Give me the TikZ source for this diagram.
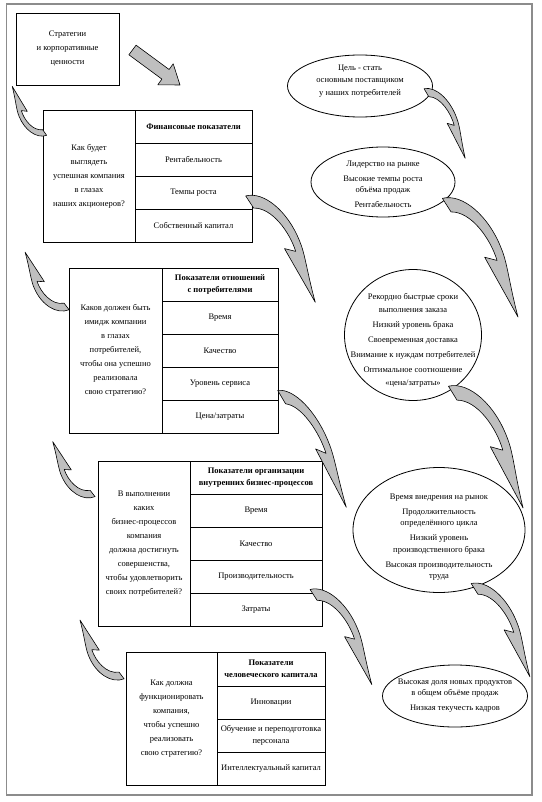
\documentclass[tikz,border=0pt]{standalone}
\usepackage{fontspec}
\setmainfont{Liberation Serif}
\usetikzlibrary{shapes.geometric}
\tikzset{
 cell/.style={draw, line width=0.8pt, inner sep=1pt, align=center, font=\fontsize{8.5}{14}\selectfont},
 hcell/.style={cell, font=\fontsize{8.5}{12}\selectfont\bfseries},
 oval/.style={draw, ellipse, line width=0.8pt, inner sep=0pt},
 otext/.style={align=center, inner sep=0pt},
 arrowfill/.style={fill=black!25, draw=black, line width=0.6pt, line join=round},
 framebox/.style={draw=black!45, line width=1.5pt},
}
% curved arrow: tail x, tail y, angle, length, bulge factor
\newcommand\crvarrow[5]{%
 \begin{scope}[shift={(#1,#2)}, rotate=#3, scale=#4, yscale=#5]
 \path[arrowfill] (-0.05,0) .. controls (0,-0.15) and (0.25,-0.22) .. (0.5,-0.17)
   .. controls (0.62,-0.15) and (0.75,-0.08) .. (1,0) -- (0.49,-0.03) -- (0.56,-0.095)
   .. controls (0.4,-0.14) and (0.15,-0.13) .. (0.07,0) -- cycle;
 \end{scope}}
\begin{document}
\begin{tikzpicture}[x=1pt,y=-1pt]
\useasboundingbox (0,0) rectangle (541,802);
\draw[framebox] (6.5,4) rectangle (532,795);

% box 1
\node[cell, minimum width=103pt, minimum height=72pt] (b1) at (67.5,49) {Стратегии\\и корпоративные\\ценности};

% straight block arrow
\path[arrowfill] (128.9,54.8) -- (136.1,45.2) -- (169.1,69.5) -- (173.2,63.8) -- (180,85) -- (157.8,84.8) -- (161.9,79.1) -- cycle;

% table 1
\node[cell, minimum width=92pt, minimum height=132pt] (t1q) at (89,176) {Как будет\\выглядеть\\успешная компания\\в глазах\\наших акционеров?};
\node[hcell, minimum width=117pt, minimum height=33pt] (t1h) at (193.5,126.5) {Финансовые показатели};
\node[cell, minimum width=117pt, minimum height=33pt] (t1a) at (193.5,159.5) {Рентабельность};
\node[cell, minimum width=117pt, minimum height=33pt] (t1b) at (193.5,192.5) {Темпы роста};
\node[cell, minimum width=117pt, minimum height=33pt] (t1c) at (193.5,225.5) {Собственный капитал};

% table 2
\node[cell, minimum width=93pt, minimum height=165pt] (t2q) at (115.5,350.5) {Каков должен быть\\имидж компании\\в глазах\\потребителей,\\чтобы она успешно\\реализовала\\свою стратегию?};
\node[hcell, minimum width=116pt, minimum height=33pt] (t2h) at (220,284.5) {Показатели отношений\\с потребителями};
\node[cell, minimum width=116pt, minimum height=33pt] (t2a) at (220,317.5) {Время};
\node[cell, minimum width=116pt, minimum height=33pt] (t2b) at (220,350.5) {Качество};
\node[cell, minimum width=116pt, minimum height=33pt] (t2c) at (220,383.5) {Уровень сервиса};
\node[cell, minimum width=116pt, minimum height=33pt] (t2d) at (220,416.5) {Цена/затраты};

% table 3
\node[cell, minimum width=92pt, minimum height=165pt] (t3q) at (144,543.5) {В выполнении\\каких\\бизнес-процессов\\компания\\должна достигнуть\\совершенства,\\чтобы удовлетворить\\своих потребителей?};
\node[hcell, minimum width=132pt, minimum height=33pt] (t3h) at (256,477.5) {Показатели организации\\внутренних бизнес-процессов};
\node[cell, minimum width=132pt, minimum height=33pt] (t3a) at (256,510.5) {Время};
\node[cell, minimum width=132pt, minimum height=33pt] (t3b) at (256,543.5) {Качество};
\node[cell, minimum width=132pt, minimum height=33pt] (t3c) at (256,576.5) {Производительность};
\node[cell, minimum width=132pt, minimum height=33pt] (t3d) at (256,609.5) {Затраты};

% table 4
\node[cell, minimum width=91pt, minimum height=133pt] (t4q) at (171.5,718.5) {Как должна\\функционировать\\компания,\\чтобы успешно\\реализовать\\свою стратегию?};
\node[hcell, minimum width=108pt, minimum height=34pt] (t4h) at (271,669) {Показатели\\человеческого капитала};
\node[cell, minimum width=108pt, minimum height=33pt, font=\fontsize{8.5}{12}\selectfont] (t4a) at (271,702.5) {Инновации};
\node[cell, minimum width=108pt, minimum height=33pt, font=\fontsize{8.5}{12}\selectfont] (t4b) at (271,735.5) {Обучение и переподготовка\\персонала};
\node[cell, minimum width=108pt, minimum height=33pt, font=\fontsize{8.5}{12}\selectfont] (t4c) at (271,768.5) {Интеллектуальный капитал};

% ellipses
\node[oval, minimum width=145pt, minimum height=62pt] (e1) at (360,86) {};
\node[otext, font=\fontsize{8.5}{12.5}\selectfont] (e1t) at (360,81) {Цель - стать\\основным поставщиком\\у наших потребителей};
\node[oval, minimum width=144pt, minimum height=70pt] (e2) at (383,182) {};
\node[otext, font=\fontsize{8.5}{11}\selectfont] (e2t) at (383,184) {Лидерство на рынке\\[4pt]Высокие темпы роста\\объёма продаж\\[4pt]Рентабельность};
\node[oval, minimum width=137pt, minimum height=131pt] (e3) at (413,335) {};
\node[otext, font=\fontsize{8.5}{13}\selectfont] (e3t) at (413,340) {Рекордно быстрые сроки\\выполнения заказа\\[2pt]Низкий уровень брака\\[2pt]Своевременная доставка\\[2pt]Внимание к нуждам потребителей\\[2pt]Оптимальное соотношение\\«цена/затраты»};
\node[oval, minimum width=172pt, minimum height=125pt] (e4) at (439,530) {};
\node[otext, font=\fontsize{8.5}{11.5}\selectfont] (e4t) at (439,537) {Время внедрения на рынок\\[3.5pt]Продолжительность\\определённого цикла\\[3.5pt]Низкий уровень\\производственного брака\\[3.5pt]Высокая производительность\\труда};
\node[oval, minimum width=145pt, minimum height=62pt] (e5) at (455,696) {};
\node[otext, font=\fontsize{8.5}{11}\selectfont] (e5t) at (455,696) {Высокая доля новых продуктов\\в общем объёме продаж\\[4pt]Низкая текучесть кадров};

% curved arrows (left side)
\crvarrow{45}{133}{125.1}{57}{1.2}
\crvarrow{67}{307}{127.4}{69}{1.25}
\crvarrow{93}{494}{127.6}{66}{1.25}
\crvarrow{122}{676}{126.9}{70}{1.25}
% curved arrows (right side)
\crvarrow{426}{92}{-59.4}{77}{1}
\crvarrow{249}{201}{-56.8}{121}{1}
\crvarrow{446}{204}{-57.5}{134}{1}
\crvarrow{281}{396}{-59.6}{129}{0.8}
\crvarrow{452}{392}{-58.5}{136}{1}
\crvarrow{313}{594}{-57.0}{108}{1}
\crvarrow{474}{588}{-57.8}{105}{1}
\end{tikzpicture}
\end{document}
